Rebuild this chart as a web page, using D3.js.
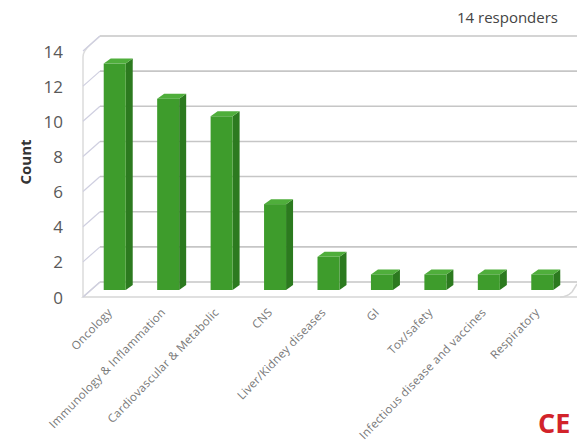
<!DOCTYPE html>
<html>
<head>
<meta charset="utf-8">
<script src="https://cdn.jsdelivr.net/npm/d3@7"></script>
<style>
  body { margin: 0; background: #fff; }
  text { font-family: "Open Sans", sans-serif; }
</style>
</head>
<body>
<div id="canvas"></div>
<script>
const categories = ["Oncology", "Immunology & Inflammation", "Cardiovascular & Metabolic", "CNS",
  "Liver/Kidney diseases", "GI", "Tox/safety", "Infectious disease and vaccines", "Respiratory"];
const counts = [13, 11, 10, 5, 2, 1, 1, 1, 1];
const yTicks = [0, 2, 4, 6, 8, 10, 12, 14];

const width = 577, height = 447;
// oblique depth of the 3d box
const depthX = 17, depthY = -15;
const left = 83, right = 564;

const svg = d3.select("#canvas").append("svg")
  .attr("width", width).attr("height", height);

const y = d3.scaleLinear().domain([0, 14]).range([297, 51]);
const x = d3.scaleBand().domain(categories).range([left, right]);

// walls
const wall = svg.append("g").attr("fill", "none");
wall.append("path")
  .attr("d", `M${left + depthX},${y(0) + depthY} L${left},${y(0)} L${width},${y(0)}`)
  .attr("stroke", "#d6d6d6").attr("stroke-width", 1.5);
wall.append("path")
  .attr("d", `M${left},${y(0)} L${left},${y(14) + 6} Q${left},${y(14)} ${left + 7},${y(14) - 6} L${left + depthX},${y(14) + depthY}`)
  .attr("stroke", "#dcdcdc").attr("stroke-width", 1.5);
// floor right edge, rounded
wall.append("path")
  .attr("d", `M${right - 4},${y(0)} Q${right + 3},${y(0)} ${right + 8},${y(0) - 5} L${width},${y(0) + depthY + 2}`)
  .attr("stroke", "#d6d6d6").attr("stroke-width", 1.5);

yTicks.forEach(v => {
  wall.append("line")
    .attr("x1", left + depthX).attr("x2", width)
    .attr("y1", y(v) + depthY).attr("y2", y(v) + depthY)
    .attr("stroke", "#c6c6c6").attr("stroke-width", 1.6);
  wall.append("line")
    .attr("x1", left).attr("x2", left + depthX)
    .attr("y1", y(v)).attr("y2", y(v) + depthY)
    .attr("stroke", "#cfcfe0").attr("stroke-width", 1.2);
});

// y labels
svg.append("g").selectAll("text").data(yTicks).enter().append("text")
  .attr("x", 63).attr("y", d => y(d) + 2)
  .attr("text-anchor", "end").attr("dominant-baseline", "middle")
  .attr("font-size", 17).attr("fill", "#595959")
  .text(d => d);

svg.append("text")
  .attr("transform", "translate(31,162) rotate(-90)")
  .attr("text-anchor", "middle")
  .attr("font-size", 15).attr("font-weight", "bold").attr("fill", "#333")
  .text("Count");

// bars
const barW = 22, sideX = 7, sideY = -5, offX = 5, offY = -7;
const bars = svg.append("g").selectAll("g").data(categories).enter().append("g");
bars.each(function (c, i) {
  const g = d3.select(this);
  const x0 = x(c) + x.bandwidth() / 2 - barW / 2 + offX;
  const x1 = x0 + barW;
  const yb = y(0) + offY;
  const yt = y(counts[i]) + offY + 2;
  g.append("path")
    .attr("d", `M${x1},${yb} L${x1 + sideX},${yb + sideY} L${x1 + sideX},${yt + sideY} L${x1},${yt}Z`)
    .attr("fill", "#2c7a1f");
  g.append("path")
    .attr("d", `M${x0},${yt} L${x0 + sideX},${yt + sideY} L${x1 + sideX},${yt + sideY} L${x1},${yt}Z`)
    .attr("fill", "#4fae3b");
  g.append("rect")
    .attr("x", x0).attr("y", yt).attr("width", barW).attr("height", yb - yt)
    .attr("fill", "#3e9c2c");
});

// category labels
svg.append("g").selectAll("text").data(categories).enter().append("text")
  .attr("transform", d => `translate(${x(d) + x.bandwidth() / 2 + 3},313) rotate(-46)`)
  .attr("text-anchor", "end")
  .attr("font-size", 11.5).attr("letter-spacing", 0.3).attr("fill", "#777")
  .text(d => d);

svg.append("text")
  .attr("x", 558).attr("y", 23).attr("text-anchor", "end")
  .attr("font-size", 15).attr("fill", "#444")
  .text("14 responders");

svg.append("text")
  .attr("x", 538).attr("y", 433)
  .attr("font-size", 27).attr("font-weight", "bold").attr("fill", "#d2232a")
  .text("CE");
</script>
</body>
</html>
